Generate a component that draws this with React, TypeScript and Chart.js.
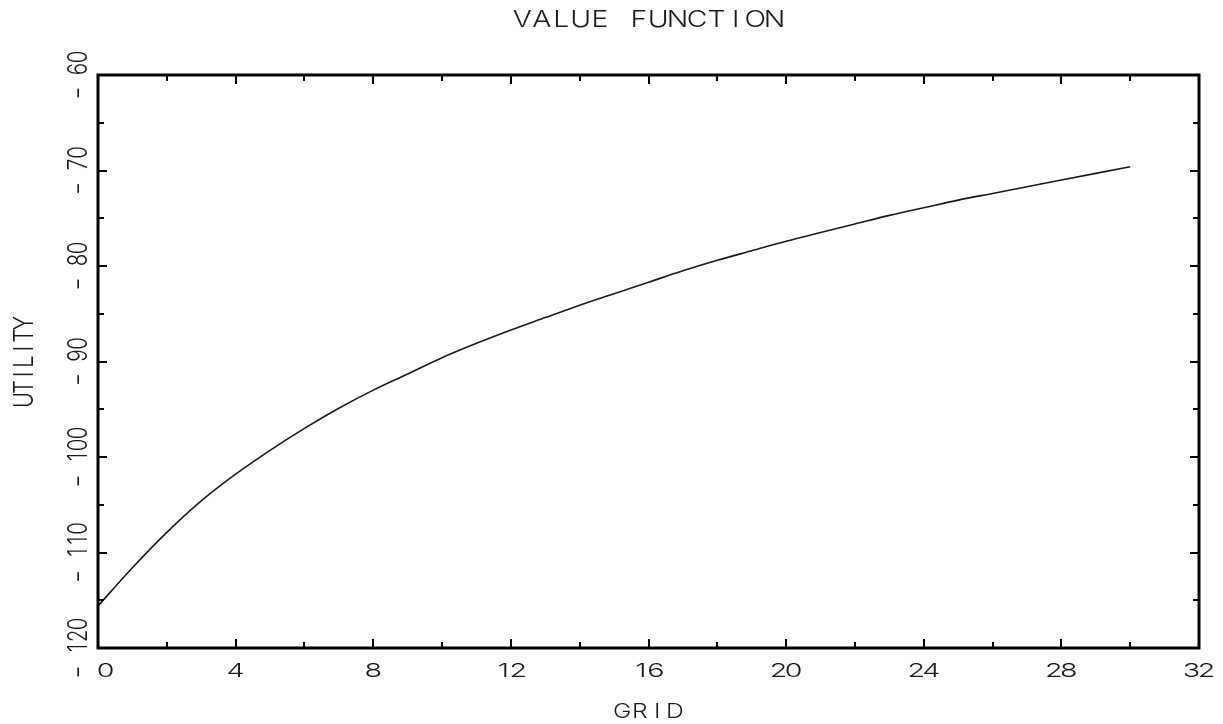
import React, { useEffect, useRef } from "react";
import { Chart, registerables } from "chart.js";

Chart.register(...registerables);

// ---- data ----
const gridValues = [
  0, 1, 2, 3, 4, 5, 6, 7, 8, 9, 10, 11, 12, 13, 14, 15, 16, 17, 18, 19, 20,
  21, 22, 23, 24, 25, 26, 27, 28, 29, 30,
];
const utilityValues = [
  -115.6, -111.6, -107.9, -104.6, -101.8, -99.3, -97.0, -94.9, -93.0, -91.3,
  -89.6, -88.1, -86.7, -85.4, -84.1, -82.9, -81.7, -80.5, -79.4, -78.4, -77.4,
  -76.5, -75.6, -74.7, -73.9, -73.1, -72.4, -71.7, -71.0, -70.3, -69.6,
];
const xTickLabels = [0, 4, 8, 12, 16, 20, 24, 28, 32];
const yTickLabels = [-60, -70, -80, -90, -100, -110, -120];
const titleText = "VALUE FUNCTION";
const xAxisTitle = "GRID";
const yAxisTitle = "UTILITY";

// ---- styles ----
const FONT = 'Inter, "DejaVu Sans", sans-serif';
const WEIGHT = 300;
const INK = "#1c1c1c";

// fixed-pitch text: every glyph centred in its own cell (stroke-font look)
function drawText(
  ctx: CanvasRenderingContext2D,
  text: string,
  x: number,
  y: number,
  capPx: number,
  pitchPx: number,
  stretch: number,
  rotate: boolean,
  align: "center" | "left" = "center"
) {
  ctx.save();
  ctx.font = `${WEIGHT} 100px ${FONT}`;
  const capRatio = ctx.measureText("H").actualBoundingBoxAscent / 100 || 0.73;
  const size = capPx / capRatio;
  ctx.font = `${WEIGHT} ${size}px ${FONT}`;
  ctx.fillStyle = INK;
  ctx.textAlign = "center";
  ctx.textBaseline = "alphabetic";
  ctx.translate(x, y);
  if (rotate) ctx.rotate(-Math.PI / 2);
  const total = text.length * pitchPx;
  const start = align === "center" ? -total / 2 : 0;
  for (let i = 0; i < text.length; i++) {
    const ch = text[i];
    if (ch === " ") continue;
    ctx.save();
    ctx.translate(start + (i + 0.5) * pitchPx, 0);
    ctx.scale(ch === "-" ? stretch * 1.4 : stretch, 1);
    ctx.fillText(ch, 0, capPx / 2);
    ctx.restore();
  }
  ctx.restore();
}

function fmtY(v: number) {
  return v < 0 ? "- " + String(Math.abs(v)) : String(v);
}

const framePlugin = {
  id: "gaussFrame",
  afterDraw(chart: any) {
    const ctx: CanvasRenderingContext2D = chart.ctx;
    const { left, right, top, bottom } = chart.chartArea;
    const xs = chart.scales.x;
    const ys = chart.scales.y;

    ctx.save();
    ctx.strokeStyle = "#000";
    ctx.lineCap = "butt";

    // inward tick marks on all four sides
    ctx.lineWidth = 2;
    for (let v = xs.min; v <= xs.max + 1e-9; v += 2) {
      const px = Math.round(xs.getPixelForValue(v));
      const len = v % 4 === 0 ? 9 : 6;
      ctx.beginPath();
      ctx.moveTo(px, bottom);
      ctx.lineTo(px, bottom - len);
      ctx.moveTo(px, top);
      ctx.lineTo(px, top + len);
      ctx.stroke();
    }
    for (let v = ys.min; v <= ys.max + 1e-9; v += 5) {
      const py = Math.round(ys.getPixelForValue(v));
      const len = v % 10 === 0 ? 9 : 6;
      ctx.beginPath();
      ctx.moveTo(left, py);
      ctx.lineTo(left + len, py);
      ctx.moveTo(right, py);
      ctx.lineTo(right - len, py);
      ctx.stroke();
    }

    // heavy frame
    ctx.lineWidth = 3;
    ctx.strokeRect(left, top, right - left, bottom - top);
    ctx.restore();

    // tick labels
    xTickLabels.forEach((v, i) => {
      const px = xs.getPixelForValue(v);
      if (i === 0) drawText(ctx, String(v), px + 0, 670, 14, 15, 1.5, false, "left");
      else drawText(ctx, String(v), px, 670, 14, 15, 1.5, false);
    });
    yTickLabels.forEach((v) => {
      const py = ys.getPixelForValue(v);
      drawText(ctx, fmtY(v), 77, py, 20, 12, 0.75, true);
    });

    // titles
    drawText(ctx, titleText, (left + right) / 2, 18.5, 17, 19.4, 1.22, false);
    drawText(ctx, xAxisTitle, (left + right) / 2, 710.5, 15, 17.5, 1.2, false);
    drawText(ctx, yAxisTitle, 23, (top + bottom) / 2, 20, 12.8, 0.8, true);
  },
};

export default function App() {
  const ref = useRef<HTMLCanvasElement | null>(null);

  useEffect(() => {
    if (!ref.current) return;
    const chart = new Chart(ref.current, {
      type: "line",
      data: {
        datasets: [
          {
            data: gridValues.map((g, i) => ({ x: g, y: utilityValues[i] })),
            borderColor: "#1a1a1a",
            borderWidth: 1.6,
            pointRadius: 0,
            cubicInterpolationMode: "monotone",
            fill: false,
          },
        ],
      },
      options: {
        animation: false,
        responsive: false,
        layout: { padding: { left: 98, top: 75, right: 24, bottom: 76 } },
        plugins: {
          legend: { display: false },
          tooltip: { enabled: false },
          title: { display: false },
        },
        scales: {
          x: { type: "linear", min: 0, max: 32, display: false },
          y: { type: "linear", min: -120, max: -60, display: false },
        },
      },
      plugins: [framePlugin],
    });
    return () => chart.destroy();
  }, []);

  return (
    <div
      style={{
        position: "fixed",
        left: 0,
        top: 0,
        width: 1223,
        height: 724,
        background: "#ffffff",
      }}
    >
      <canvas
        ref={ref}
        width={1223}
        height={724}
        style={{ display: "block", width: 1223, height: 724 }}
      />
    </div>
  );
}
